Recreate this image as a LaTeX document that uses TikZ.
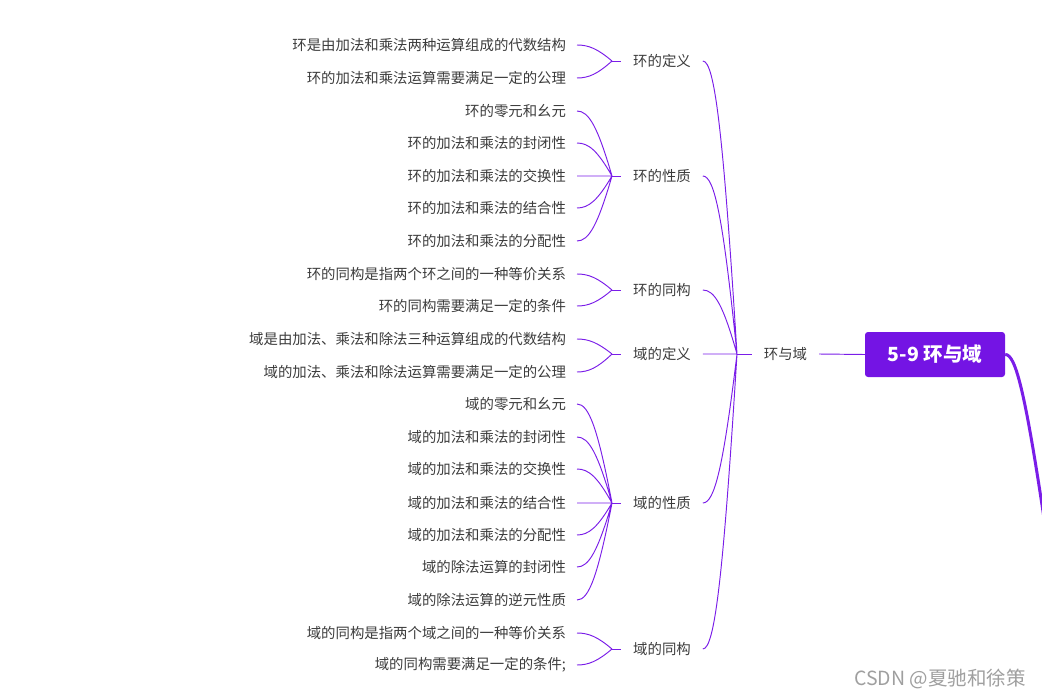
\documentclass[tikz,border=0pt]{standalone}
\usepackage{fontspec}
\setmainfont{Noto Sans CJK SC}
\usetikzlibrary{calc}

\definecolor{mindline}{HTML}{7A1DE8}
\definecolor{rootfill}{HTML}{7414E4}
\definecolor{leaftext}{HTML}{3C3C3C}

\begin{document}
\begin{tikzpicture}[
    x=1pt, y=1pt,
    font=\fontsize{14.4}{16}\selectfont,
    leaf/.style={
      anchor=east,
      inner sep=0pt,
      outer xsep=11pt,
      text=leaftext
    },
    topic/.style={
      inner sep=0pt,
      outer xsep=12pt,
      text=leaftext
    },
    rootbox/.style={
      fill=rootfill,
      text=white,
      rounded corners=3pt,
      minimum width=140pt,
      minimum height=45pt,
      font=\fontsize{19.5}{22}\selectfont\bfseries
    },
    link/.style={
      draw=mindline,
      line width=0.95pt
    },
    sweep/.style={
      to path={.. controls ([xshift=12pt]\tikztostart)
        and ($(\tikztostart)!0.25!(\tikztotarget)+(12,0)$) .. (\tikztotarget)}
    }
  ]
    \useasboundingbox (0,0) rectangle (1042,-698);

    % Root and first level
    \node[rootbox] (root) at (935,-354.5) {5-9 环与域};
    \node[topic] (ring) at (785.5,-354) {环与域};
    \coordinate (mainj) at (737,-354);
    \coordinate (rootend) at (1048,-545);

    % Topics
    \node[topic] (hdef)  at (662,-61)  {环的定义};
    \node[topic] (hprop) at (662,-176) {环的性质};
    \node[topic] (hiso)  at (662,-290) {环的同构};
    \node[topic] (fdef)  at (662,-354) {域的定义};
    \node[topic] (fprop) at (662,-503) {域的性质};
    \node[topic] (fiso)  at (662,-649) {域的同构};

    \coordinate (hdefj)  at (612,-61);
    \coordinate (hpropj) at (612,-176);
    \coordinate (hisoj)  at (612,-290);
    \coordinate (fdefj)  at (612,-354);
    \coordinate (fpropj) at (612,-503);
    \coordinate (fisoj)  at (612,-649);

    % Leaves
    \node[leaf] (hdef1) at (577,-45) {环是由加法和乘法两种运算组成的代数结构};
    \node[leaf] (hdef2) at (577,-78) {环的加法和乘法运算需要满足一定的公理};

    \node[leaf] (hprop1) at (577,-111) {环的零元和幺元};
    \node[leaf] (hprop2) at (577,-143) {环的加法和乘法的封闭性};
    \node[leaf] (hprop3) at (577,-176) {环的加法和乘法的交换性};
    \node[leaf] (hprop4) at (577,-208) {环的加法和乘法的结合性};
    \node[leaf] (hprop5) at (577,-241) {环的加法和乘法的分配性};

    \node[leaf] (hiso1) at (577,-274) {环的同构是指两个环之间的一种等价关系};
    \node[leaf] (hiso2) at (577,-306) {环的同构需要满足一定的条件};

    \node[leaf] (fdef1) at (577,-339) {域是由加法、乘法和除法三种运算组成的代数结构};
    \node[leaf] (fdef2) at (577,-372) {域的加法、乘法和除法运算需要满足一定的公理};

    \node[leaf] (fprop1) at (577,-404) {域的零元和幺元};
    \node[leaf] (fprop2) at (577,-437) {域的加法和乘法的封闭性};
    \node[leaf] (fprop3) at (577,-469) {域的加法和乘法的交换性};
    \node[leaf] (fprop4) at (577,-503) {域的加法和乘法的结合性};
    \node[leaf] (fprop5) at (577,-535) {域的加法和乘法的分配性};
    \node[leaf] (fprop6) at (577,-567) {域的除法运算的封闭性};
    \node[leaf] (fprop7) at (577,-600) {域的除法运算的逆元性质};

    \node[leaf] (fiso1) at (577,-633) {域的同构是指两个域之间的一种等价关系};
    \node[leaf] (fiso2) at (577,-665) {域的同构需要满足一定的条件;};

    % Watermark
    \node[text=gray!75, font=\fontsize{19.5}{21}\selectfont] (mark) at (940,-679) {CSDN @夏驰和徐策};

    % Connectors
    \draw[mindline, line width=3pt] (root.east) .. controls (1016,-354) and (1026,-395) .. (rootend);
    \draw[link] (root.west) -- (ring.east);
    \draw[link] (ring.west) -- (mainj);

    \draw[link] (hdef.east) to[sweep] (mainj) (hprop.east) to[sweep] (mainj)
      (hiso.east) to[sweep] (mainj) (fdef.east) to[sweep] (mainj)
      (fprop.east) to[sweep] (mainj) (fiso.east) to[sweep] (mainj);

    \draw[link] (hdefj) -- (hdef.west) (hpropj) -- (hprop.west) (hisoj) -- (hiso.west)
      (fdefj) -- (fdef.west) (fpropj) -- (fprop.west) (fisoj) -- (fiso.west);

    \draw[link] (hdef1.east) to[sweep] (hdefj) (hdef2.east) to[sweep] (hdefj);
    \draw[link] (hprop1.east) to[sweep] (hpropj) (hprop2.east) to[sweep] (hpropj)
      (hprop3.east) to[sweep] (hpropj) (hprop4.east) to[sweep] (hpropj)
      (hprop5.east) to[sweep] (hpropj);
    \draw[link] (hiso1.east) to[sweep] (hisoj) (hiso2.east) to[sweep] (hisoj);
    \draw[link] (fdef1.east) to[sweep] (fdefj) (fdef2.east) to[sweep] (fdefj);
    \draw[link] (fprop1.east) to[sweep] (fpropj) (fprop2.east) to[sweep] (fpropj)
      (fprop3.east) to[sweep] (fpropj) (fprop4.east) to[sweep] (fpropj)
      (fprop5.east) to[sweep] (fpropj) (fprop6.east) to[sweep] (fpropj)
      (fprop7.east) to[sweep] (fpropj);
    \draw[link] (fiso1.east) to[sweep] (fisoj) (fiso2.east) to[sweep] (fisoj);

  \end{tikzpicture}
\end{document}
